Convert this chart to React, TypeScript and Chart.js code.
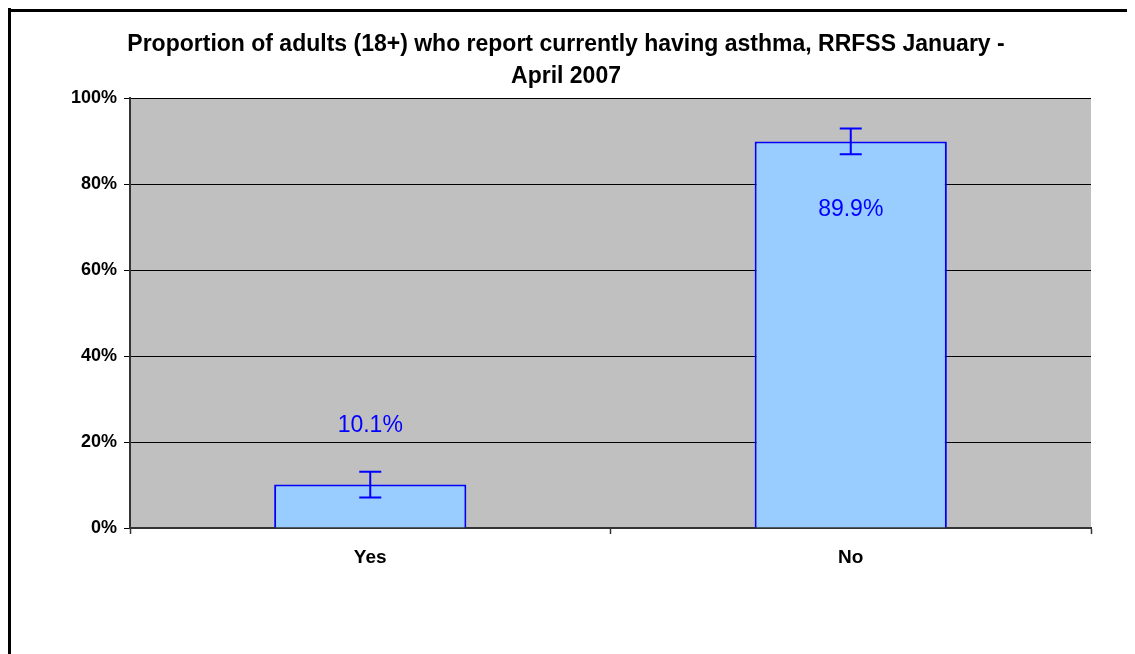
import React, { useEffect, useRef } from "react";
import { Chart, registerables } from "chart.js";

Chart.register(...registerables);

const titleLines = [
  "Proportion of adults (18+) who report currently having asthma, RRFSS January -",
  "April 2007",
];
const categories = ["Yes", "No"];
const values = [10.1, 89.9];
const errorMargins = [3.0, 3.0];
const valueLabels = ["10.1%", "89.9%"];
const yTicks = [0, 20, 40, 60, 80, 100];

const chartDecor = {
  id: "chartDecor",
  beforeDraw(chart: any) {
    const { ctx, chartArea } = chart;
    ctx.save();
    ctx.fillStyle = "#ffffff";
    ctx.fillRect(0, 0, chart.width, chart.height);
    ctx.fillStyle = "#C0C0C0";
    ctx.fillRect(chartArea.left, chartArea.top, chartArea.right - chartArea.left, chartArea.bottom - chartArea.top);
    ctx.restore();
  },
  afterDraw(chart: any) {
    const { ctx } = chart;
    ctx.save();
    // outer border (left & top visible)
    ctx.fillStyle = "#000000";
    ctx.fillRect(0, 0, 3, chart.height);
    ctx.fillRect(0, 1, chart.width, 3);
    // title
    ctx.fillStyle = "#000000";
    ctx.font = "bold 23px Arial, 'Liberation Sans', sans-serif";
    ctx.textAlign = "center";
    ctx.textBaseline = "alphabetic";
    ctx.fillText(titleLines[0], 558, 43);
    ctx.fillText(titleLines[1], 558, 75);

    const meta = chart.getDatasetMeta(0);
    const yScale = chart.scales.y;
    // error bars
    ctx.strokeStyle = "#0000FF";
    ctx.lineWidth = 2;
    meta.data.forEach((bar: any, i: number) => {
      const x = bar.x;
      const yHi = yScale.getPixelForValue(values[i] + errorMargins[i]);
      const yLo = yScale.getPixelForValue(values[i] - errorMargins[i]);
      const cap = 11;
      ctx.beginPath();
      ctx.moveTo(x, yHi);
      ctx.lineTo(x, yLo);
      ctx.moveTo(x - cap, yHi);
      ctx.lineTo(x + cap, yHi);
      ctx.moveTo(x - cap, yLo);
      ctx.lineTo(x + cap, yLo);
      ctx.stroke();
    });
    // value labels
    const labelOffsets = [-53, 75];
    ctx.fillStyle = "#0000FF";
    ctx.font = "23px Arial, 'Liberation Sans', sans-serif";
    ctx.textAlign = "center";
    ctx.textBaseline = "alphabetic";
    meta.data.forEach((bar: any, i: number) => {
      ctx.fillText(valueLabels[i], bar.x, bar.y + labelOffsets[i]);
    });
    ctx.restore();
  },
};

export default function App() {
  const canvasRef = useRef<HTMLCanvasElement | null>(null);

  useEffect(() => {
    if (!canvasRef.current) return;
    const chart = new Chart(canvasRef.current, {
      type: "bar",
      data: {
        labels: categories,
        datasets: [
          {
            data: values,
            backgroundColor: "#99CCFF",
            borderColor: "#0000FF",
            borderWidth: 2,
            categoryPercentage: 1,
            barPercentage: 0.4,
          },
        ],
      },
      options: {
        responsive: true,
        maintainAspectRatio: false,
        animation: false,
        layout: { padding: { left: 0, right: 44, top: 90, bottom: 76 } },
        plugins: {
          legend: { display: false },
          title: { display: false },
          tooltip: { enabled: false },
        },
        scales: {
          x: {
            offset: true,
            afterFit: (scale: any) => {
              scale.height = 50;
            },
            grid: {
              display: true,
              offset: true,
              drawOnChartArea: false,
              drawTicks: true,
              tickLength: 6,
              tickColor: "#333333",
              tickWidth: 1.5,
            },
            border: { display: true, color: "#333333", width: 2 },
            ticks: {
              color: "#000000",
              font: { family: "Arial, 'Liberation Sans', sans-serif", size: 19, weight: "bold" },
              padding: 12,
            },
          },
          y: {
            min: 0,
            max: 100,
            afterFit: (scale: any) => {
              scale.width = 122;
            },
            afterBuildTicks: (scale: any) => {
              scale.ticks = yTicks.map((v) => ({ value: v }));
            },
            grid: {
              color: (c: any) => (c.index === 0 ? "rgba(0,0,0,0)" : "#000000"),
              lineWidth: 1,
              drawTicks: true,
              tickLength: 6,
              tickColor: "#000000",
            },
            border: { display: true, color: "#333333", width: 2 },
            ticks: {
              color: "#000000",
              font: { family: "Arial, 'Liberation Sans', sans-serif", size: 18, weight: "bold" },
              padding: 7,
              callback: (v: any) => v + "%",
            },
          },
        },
      },
      plugins: [chartDecor],
    });
    return () => chart.destroy();
  }, []);

  return (
    <div style={{ width: 1127, height: 646, position: "relative" }}>
      <canvas ref={canvasRef} />
    </div>
  );
}
